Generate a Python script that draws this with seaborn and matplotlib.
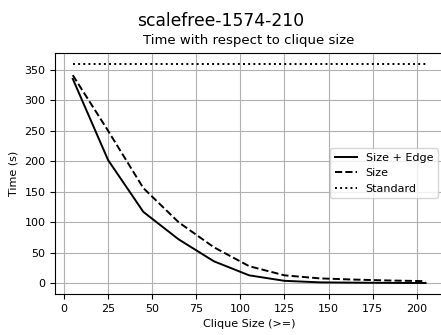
import matplotlib
matplotlib.use("Agg")
import matplotlib.pyplot as plt
import pandas as pd
import seaborn as sns

clique_size = [5, 25, 45, 65, 85, 105, 125, 145, 165, 185, 205]
time_size_edge = [335, 202, 117, 72, 36, 13, 4, 1.5, 1.0, 0.6, 0.4]
time_size = [341, 250, 156, 100, 59, 28, 13, 8, 6, 4.5, 3.5]
time_standard = [360] * len(clique_size)

series = ["Size + Edge", "Size", "Standard"]
values = [time_size_edge, time_size, time_standard]

df = pd.DataFrame({
    "Clique Size (>=)": clique_size * len(series),
    "Time (s)": [v for vals in values for v in vals],
    "method": [name for name in series for _ in clique_size],
})

fig = plt.figure(figsize=(4.41, 3.35), dpi=100)
ax = fig.add_axes([0.125, 0.1224, 0.88, 0.7206])

sns.lineplot(
    data=df, x="Clique Size (>=)", y="Time (s)", style="method",
    style_order=series,
    dashes={"Size + Edge": "", "Size": (3.7, 1.6), "Standard": (1, 1.65)},
    color="black", linewidth=1.4, ax=ax,
)

ax.set_xlim(-5, 215)
ax.spines["right"].set_visible(False)
ax.grid(True, color="#b0b0b0", linewidth=0.8)
ax.set_axisbelow(True)
ax.set_xticks([0, 25, 50, 75, 100, 125, 150, 175, 200])
ax.set_yticks([0, 50, 100, 150, 200, 250, 300, 350])
ax.tick_params(labelsize=8)
ax.set_xlabel("Clique Size (>=)", fontsize=8)
ax.set_ylabel("Time (s)", fontsize=8)
ax.set_title("Time with respect to clique size", fontsize=9.5)
fig.suptitle("scalefree-1574-210", fontsize=12.3, y=0.965)

ax.legend(loc="center right", fontsize=8, title=None)

fig.savefig("out.png", dpi=100)
